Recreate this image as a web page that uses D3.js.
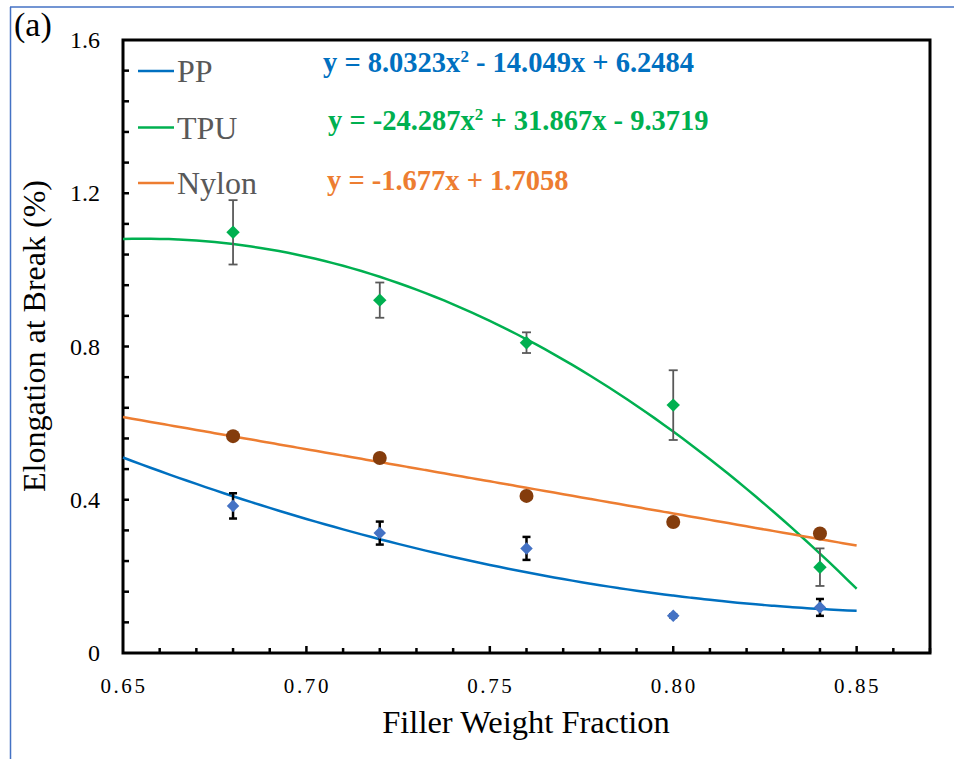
<!DOCTYPE html>
<html>
<head>
<meta charset="utf-8">
<script src="https://cdn.jsdelivr.net/npm/d3@7"></script>
<style>
  body { margin: 0; background: #ffffff; }
  text { font-family: "Liberation Serif", "Times New Roman", serif; }
</style>
</head>
<body>
<div id="chart"></div>
<script>
// values
var fillerFractions = [0.68, 0.72, 0.76, 0.80, 0.84];

var ppValues = [0.384, 0.313, 0.273, 0.097, 0.119];
var ppErrors = [0.033, 0.030, 0.030, 0.004, 0.022];

var tpuValues = [1.098, 0.921, 0.810, 0.647, 0.224];
var tpuErrors = [0.084, 0.046, 0.027, 0.091, 0.049];

var nylonValues = [0.566, 0.509, 0.410, 0.342, 0.312];

// trendline coefficients [a, b, c] for y = a x^2 + b x + c
var ppFit = [8.0323, -14.049, 6.2484];
var tpuFit = [-24.287, 31.867, -9.3719];
var nylonFit = [0, -1.677, 1.7058];

var xTicks = [0.65, 0.70, 0.75, 0.80, 0.85];
var yTicks = [0, 0.4, 0.8, 1.2, 1.6];

var width = 954, height = 759;
var plotLeft = 123, plotRight = 930, plotTop = 40, plotBottom = 653;

var svg = d3.select("#chart").append("svg")
  .attr("width", width)
  .attr("height", height);

var x = d3.scaleLinear().domain([0.65, 0.87]).range([plotLeft, plotRight]);
var y = d3.scaleLinear().domain([0, 1.6]).range([plotBottom, plotTop]);

// blue page border (top and left only)
svg.append("line").attr("x1", 10).attr("x2", width).attr("y1", 7).attr("y2", 7)
  .style("stroke", "#4472C4").style("stroke-width", 1.5);
svg.append("line").attr("x1", 10.5).attr("x2", 10.5).attr("y1", 7).attr("y2", height)
  .style("stroke", "#4472C4").style("stroke-width", 1.5);

// ticks (inward)
var minorX = d3.range(66, 88).map(function(d){ return d / 100; });
svg.append("g").selectAll("line").data(minorX).enter().append("line")
  .attr("x1", function(d){ return x(d); })
  .attr("x2", function(d){ return x(d); })
  .attr("y1", plotBottom)
  .attr("y2", function(d){ return Math.round(d * 100) % 5 == 0 ? plotBottom - 7 : plotBottom - 5; })
  .style("stroke", "#000").style("stroke-width", 2.5);

var minorY = d3.range(1, 20).map(function(d){ return d * 0.08; });
svg.append("g").selectAll("line").data(minorY).enter().append("line")
  .attr("x1", plotLeft).attr("x2", plotLeft + 6)
  .attr("y1", function(d){ return y(d); })
  .attr("y2", function(d){ return y(d); })
  .style("stroke", "#000").style("stroke-width", 2.5);

// frame
svg.append("rect")
  .attr("x", plotLeft).attr("y", plotTop)
  .attr("width", plotRight - plotLeft).attr("height", plotBottom - plotTop)
  .attr("fill", "none")
  .style("stroke", "#000").style("stroke-width", 3);

// tick labels
svg.append("g").selectAll("text").data(xTicks).enter().append("text")
  .attr("x", function(d){ return x(d) + 1; })
  .attr("y", 693)
  .attr("text-anchor", "middle")
  .style("font-size", "21px")
  .style("letter-spacing", "2.6px")
  .text(function(d){ return d.toFixed(2); });

svg.append("g").selectAll("text").data(yTicks).enter().append("text")
  .attr("x", 100)
  .attr("y", function(d){ return y(d) + 8; })
  .attr("text-anchor", "end")
  .style("font-size", "24px")
  .text(function(d){ return d == 0 ? "0" : d.toFixed(1); });

// axis titles
svg.append("text")
  .attr("x", 526).attr("y", 733)
  .attr("text-anchor", "middle")
  .style("font-size", "32.5px")
  .text("Filler Weight Fraction");

svg.append("text")
  .attr("transform", "translate(45,336) rotate(-90)")
  .attr("text-anchor", "middle")
  .style("font-size", "32px")
  .text("Elongation at Break (%)");

svg.append("text")
  .attr("x", 14).attr("y", 36)
  .style("font-size", "34px")
  .text("(a)");

// trendlines
function fitLine(coef, color) {
  var xs = d3.range(0.65, 0.8501, 0.0025);
  var line = d3.line()
    .x(function(d){ return x(d); })
    .y(function(d){ return y(coef[0] * d * d + coef[1] * d + coef[2]); })
    .curve(d3.curveMonotoneX);
  svg.append("path")
    .datum(xs)
    .attr("d", line)
    .attr("fill", "none")
    .style("stroke", color)
    .style("stroke-width", 2.5);
}
fitLine(ppFit, "#0070C0");
fitLine(tpuFit, "#00B050");
fitLine(nylonFit, "#ED7D31");

// error bars
function errorBars(vals, errs, color, sw, cap) {
  var g = svg.append("g");
  vals.forEach(function(v, i){
    var cx = x(fillerFractions[i]);
    var y1 = y(v + errs[i]), y2 = y(v - errs[i]);
    g.append("line").attr("x1", cx).attr("x2", cx).attr("y1", y1).attr("y2", y2)
      .style("stroke", color).style("stroke-width", sw);
    g.append("line").attr("x1", cx - cap).attr("x2", cx + cap).attr("y1", y1).attr("y2", y1)
      .style("stroke", color).style("stroke-width", sw);
    g.append("line").attr("x1", cx - cap).attr("x2", cx + cap).attr("y1", y2).attr("y2", y2)
      .style("stroke", color).style("stroke-width", sw);
  });
}
errorBars(tpuValues, tpuErrors, "#595959", 1.8, 4.5);
errorBars(ppValues, ppErrors, "#000000", 2.5, 4);

// markers
var diamond = d3.symbol().type(d3.symbolDiamond2);
svg.append("g").selectAll("circle").data(nylonValues).enter().append("circle")
  .attr("cx", function(d, i){ return x(fillerFractions[i]); })
  .attr("cy", function(d){ return y(d); })
  .attr("r", 7)
  .attr("fill", "#843C0C");

svg.append("g").selectAll("path").data(tpuValues).enter().append("path")
  .attr("transform", function(d, i){ return "translate(" + x(fillerFractions[i]) + "," + y(d) + ")"; })
  .attr("d", diamond.size(115))
  .attr("fill", "#00B050");

svg.append("g").selectAll("path").data(ppValues).enter().append("path")
  .attr("transform", function(d, i){ return "translate(" + x(fillerFractions[i]) + "," + y(d) + ")"; })
  .attr("d", diamond.size(100))
  .attr("fill", "#4472C4");

// legend
var legendNames = ["PP", "TPU", "Nylon"];
var legendColors = ["#0070C0", "#00B050", "#ED7D31"];
var legendY = [71, 127.5, 183];
legendNames.forEach(function(name, i){
  svg.append("line")
    .attr("x1", 138).attr("x2", 174)
    .attr("y1", legendY[i]).attr("y2", legendY[i])
    .style("stroke", legendColors[i]).style("stroke-width", 2.5);
  svg.append("text")
    .attr("x", 177).attr("y", legendY[i] + 11)
    .style("font-size", "32px")
    .style("fill", "#595959")
    .text(name);
});

// equations
function equation(xPos, yPos, color, parts) {
  var t = svg.append("text")
    .attr("x", xPos).attr("y", yPos)
    .style("font-size", "28.5px")
    .style("font-weight", "bold")
    .style("fill", color);
  t.append("tspan").text(parts[0]);
  if (parts.length > 1) {
    t.append("tspan").attr("dy", -10).style("font-size", "17px").text("2");
    t.append("tspan").attr("dy", 10).text(parts[1]);
  }
}
equation(323, 72, "#0070C0", ["y = 8.0323x", " - 14.049x + 6.2484"]);
equation(328, 130, "#00B050", ["y = -24.287x", " + 31.867x - 9.3719"]);
equation(327, 190, "#ED7D31", ["y = -1.677x + 1.7058"]);
</script>
</body>
</html>
